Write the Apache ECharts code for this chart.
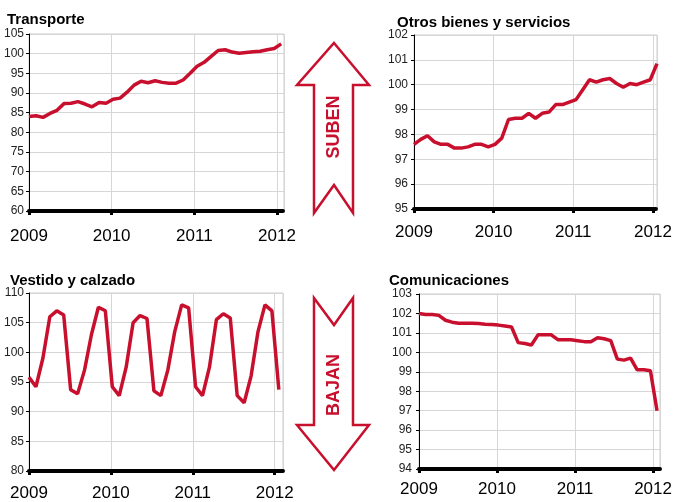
<!DOCTYPE html>
<html>
<head>
<meta charset="utf-8">
<script src="https://cdn.jsdelivr.net/npm/echarts@6/dist/echarts.min.js"></script>
<style>
  html, body { margin: 0; padding: 0; background: #fff; }
  #chart { width: 678px; height: 502px; }
</style>
</head>
<body>
<div id="chart"></div>
<script>
// monthly index values, Jan 2009 .. Jan 2012
var yearLabels = ['2009', '2010', '2011', '2012'];
var transporte = [84.0, 84.2, 83.8, 84.8, 85.6, 87.3, 87.4, 87.8, 87.2, 86.5, 87.6, 87.4,
  88.4, 88.7, 90.2, 92.0, 93.0, 92.6, 93.1, 92.7, 92.5, 92.5, 93.3, 95.0,
  96.8, 97.8, 99.3, 100.8, 101.0, 100.4, 100.1, 100.3, 100.5, 100.6, 101.0, 101.3, 102.5];
var otros = [97.6, 97.8, 97.95, 97.7, 97.6, 97.6, 97.45, 97.45, 97.5, 97.6, 97.6, 97.5,
  97.6, 97.85, 98.6, 98.65, 98.65, 98.85, 98.65, 98.85, 98.9, 99.2, 99.2, 99.3,
  99.4, 99.8, 100.2, 100.1, 100.2, 100.25, 100.05, 99.9, 100.05, 100.0, 100.1, 100.2, 100.85];
var vestido = [95.8, 94.2, 99.0, 106.0, 107.0, 106.3, 93.7, 93.0, 97.0, 103.0, 107.6, 107.0,
  94.2, 92.7, 97.5, 105.0, 106.2, 105.7, 93.5, 92.7, 97.0, 103.5, 108.0, 107.5,
  94.2, 92.7, 97.5, 105.5, 106.5, 105.8, 92.7, 91.5, 96.0, 103.5, 108.0, 107.0, 93.7];
var comunicaciones = [102.0, 101.95, 101.95, 101.9, 101.65, 101.55, 101.5, 101.5, 101.5, 101.48, 101.45, 101.43,
  101.4, 101.35, 101.3, 100.5, 100.45, 100.38, 100.9, 100.9, 100.9, 100.65, 100.65, 100.65,
  100.6, 100.55, 100.55, 100.75, 100.7, 100.6, 99.65, 99.6, 99.7, 99.1, 99.1, 99.05, 97.0];
var titles = ['Transporte', 'Otros bienes y servicios', 'Vestido y calzado', 'Comunicaciones'];

var font = 'Liberation Sans, Arial, sans-serif';
var red = '#c8102e';
var yearStep = 11.8;

var myChart = echarts.init(document.getElementById('chart'));

function pairs(arr) {
  return arr.map(function (v, i) { return [i, v]; });
}

var grids = [
  { left: 29, top: 34, width: 255, height: 177 },
  { left: 414, top: 35, width: 243, height: 174 },
  { left: 29, top: 293, width: 254, height: 179 },
  { left: 419, top: 294, width: 241, height: 175 }
];
var xMax = [36.4, 36.0, 36.6, 36.45];
var xMargin = [17, 15, 14, 12];
var yRange = [[60, 105, 5], [95, 102, 1], [80, 110, 5], [94, 103, 1]];
var yMargin = [5, 6, 5, 7];
var allData = [transporte, otros, vestido, comunicaciones];
var titlePos = [[7, 12], [397, 15], [10, 273], [389, 273]];

var option = {
  animation: false,
  backgroundColor: '#fff',
  title: titles.map(function (t, i) {
    return {
      text: t, left: titlePos[i][0], top: titlePos[i][1], padding: 0,
      textStyle: { fontFamily: font, fontSize: 15, fontWeight: 'bold', color: '#000' }
    };
  }),
  grid: grids.map(function (g) {
    return Object.assign({ show: true, borderColor: '#cfcfcf', borderWidth: 1, containLabel: false }, g);
  }),
  xAxis: grids.map(function (g, i) {
    return {
      type: 'value', gridIndex: i, min: 0, max: xMax[i], interval: yearStep,
      axisLine: { lineStyle: { color: '#000', width: 4, type: [2, 1] } },
      axisTick: { length: 4, lineStyle: { color: '#000', width: 3 } },
      axisLabel: {
        fontFamily: font, fontSize: 17, color: '#000', margin: xMargin[i],
        showMaxLabel: false,
        formatter: function (v) { return yearLabels[Math.round(v / yearStep)] || ''; }
      },
      splitLine: { show: true, lineStyle: { color: '#d6d6d6', width: 1 } }
    };
  }),
  yAxis: grids.map(function (g, i) {
    return {
      type: 'value', gridIndex: i, min: yRange[i][0], max: yRange[i][1], interval: yRange[i][2],
      axisLine: { show: true, lineStyle: { color: '#000', width: 1 } },
      axisTick: { show: true, length: 3, lineStyle: { color: '#000' } },
      axisLabel: { fontFamily: font, fontSize: 12, color: '#222', margin: yMargin[i] },
      splitLine: { show: true, lineStyle: { color: '#d6d6d6', width: 1 } }
    };
  }),
  series: allData.map(function (d, i) {
    return {
      type: 'line', xAxisIndex: i, yAxisIndex: i, data: pairs(d),
      showSymbol: false, symbol: 'none', z: 3,
      lineStyle: { color: red, width: 3.5 }
    };
  }),
  graphic: [
    {
      type: 'polygon', z: 10,
      shape: { points: [[334, 43], [369, 85], [353, 85], [353, 213], [334, 185], [314, 213], [314, 85], [297, 85]] },
      style: { fill: '#fff', stroke: red, lineWidth: 2.5 }
    },
    {
      type: 'text', z: 11, x: 334, y: 127, rotation: Math.PI / 2,
      style: { text: 'SUBEN', fill: red, font: 'bold 18px ' + font, align: 'center', verticalAlign: 'middle' }
    },
    {
      type: 'polygon', z: 10,
      shape: { points: [[314, 298], [334, 325], [353, 298], [353, 425], [369, 425], [334, 470], [297, 425], [314, 425]] },
      style: { fill: '#fff', stroke: red, lineWidth: 2.5 }
    },
    {
      type: 'text', z: 11, x: 334, y: 385, rotation: Math.PI / 2,
      style: { text: 'BAJAN', fill: red, font: 'bold 18px ' + font, align: 'center', verticalAlign: 'middle' }
    }
  ]
};

myChart.setOption(option, true);
</script>
</body>
</html>
